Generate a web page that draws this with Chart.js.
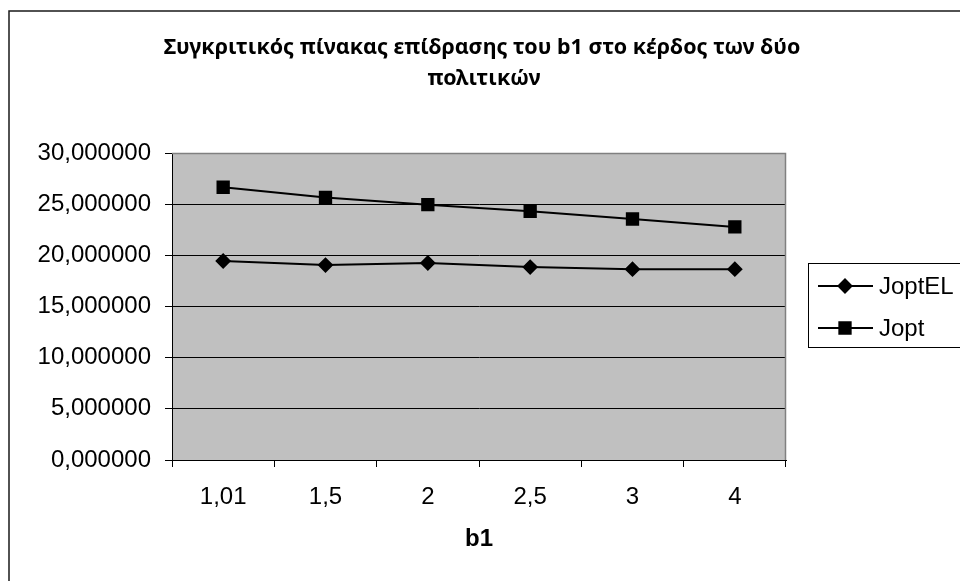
<!DOCTYPE html>
<html>
<head>
<meta charset="utf-8">
<script src="https://cdn.jsdelivr.net/npm/chart.js@4.4.1/dist/chart.umd.min.js"></script>
<style>
html,body{margin:0;padding:0;background:#fff;}
#wrap{width:960px;height:581px;position:relative;}
</style>
</head>
<body>
<div id="wrap"><canvas id="c" width="960" height="581"></canvas></div>
<script>
const categories = ['1,01', '1,5', '2', '2,5', '3', '4'];
const joptEL = [19.45, 19.05, 19.25, 18.85, 18.65, 18.65];
const jopt = [26.65, 25.65, 24.95, 24.30, 23.55, 22.78];
const seriesNames = ['JoptEL', 'Jopt'];
const titleLines = ['Συγκριτικός πίνακας επίδρασης του b1 στο κέρδος των δύο', 'πολιτικών'];
const xTitle = 'b1';
const yTicks = [0, 5, 10, 15, 20, 25, 30];

const FONT = "'Liberation Sans', Arial, sans-serif";
const TFONT = "'Noto Sans', 'DejaVu Sans', sans-serif";

const decor = {
  id: 'decor',
  beforeDraw(chart) {
    const ctx = chart.ctx;
    const a = chart.chartArea;
    ctx.save();
    ctx.fillStyle = '#fff';
    ctx.fillRect(0, 0, chart.width, chart.height);
    ctx.fillStyle = '#c0c0c0';
    ctx.fillRect(a.left, a.top, a.right - a.left, a.bottom - a.top);
    ctx.restore();
  },
  afterDraw(chart) {
    const ctx = chart.ctx;
    const a = chart.chartArea;
    ctx.save();
    // plot top/right border
    ctx.strokeStyle = '#808080';
    ctx.lineWidth = 1.5;
    ctx.beginPath();
    ctx.moveTo(a.left, a.top + 0.5);
    ctx.lineTo(a.right - 0.5, a.top + 0.5);
    ctx.lineTo(a.right - 0.5, a.bottom);
    ctx.stroke();
    // outer frame
    ctx.strokeStyle = '#1a1a1a';
    ctx.lineWidth = 1.5;
    ctx.beginPath();
    ctx.moveTo(9, chart.height + 5);
    ctx.lineTo(9, 11);
    ctx.lineTo(chart.width + 5, 11);
    ctx.stroke();
    // title
    ctx.fillStyle = '#000';
    ctx.font = 'bold 18px ' + TFONT;
    const w = ctx.measureText(titleLines[0]).width;
    const size = 18 * 637 / w;
    ctx.font = 'bold ' + size.toFixed(2) + 'px ' + TFONT;
    ctx.textAlign = 'center';
    ctx.textBaseline = 'middle';
    ctx.fillText(titleLines[0], 482, 48);
    ctx.fillText(titleLines[1], 484, 79);
    // legend
    ctx.fillStyle = '#fff';
    ctx.fillRect(808, 263, 170, 84);
    ctx.strokeStyle = '#000';
    ctx.lineWidth = 1;
    ctx.strokeRect(808.5, 263.5, 170, 84);
    const rows = [286, 328];
    chart.data.datasets.forEach((ds, i) => {
      const y = rows[i];
      ctx.strokeStyle = ds.borderColor;
      ctx.lineWidth = ds.borderWidth;
      ctx.beginPath();
      ctx.moveTo(818, y);
      ctx.lineTo(873, y);
      ctx.stroke();
      Chart.helpers.drawPoint(ctx, {pointStyle: ds.pointStyle, radius: ds.pointRadius, borderWidth: 1}, 845, y);
      ctx.fillStyle = ds.pointBackgroundColor;
      ctx.fill();
      ctx.fillStyle = '#000';
      ctx.font = '24px ' + FONT;
      ctx.textAlign = 'left';
      ctx.textBaseline = 'middle';
      ctx.fillText(ds.label, 879, y + 1);
    });
    ctx.restore();
  }
};

new Chart(document.getElementById('c'), {
  type: 'line',
  data: {
    labels: categories,
    datasets: [
      {
        label: seriesNames[0], data: joptEL,
        borderColor: '#000', backgroundColor: '#000', borderWidth: 2,
        pointStyle: 'rectRot', pointRadius: 6.5, pointBackgroundColor: '#000', pointBorderColor: '#000',
        tension: 0
      },
      {
        label: seriesNames[1], data: jopt,
        borderColor: '#000', backgroundColor: '#000', borderWidth: 2,
        pointStyle: 'rect', pointRadius: 8, pointBackgroundColor: '#000', pointBorderColor: '#000',
        tension: 0
      }
    ]
  },
  options: {
    responsive: false,
    animation: false,
    devicePixelRatio: 1,
    layout: { padding: { left: 0, right: 174, top: 153, bottom: 0 } },
    plugins: { legend: { display: false }, title: { display: false }, tooltip: { enabled: false } },
    scales: {
      x: {
        type: 'category',
        offset: true,
        grid: { display: true, drawOnChartArea: false, drawTicks: true, tickLength: 7, color: '#000', offset: true },
        border: { display: true, color: '#000', width: 1 },
        ticks: { color: '#000', font: { family: FONT, size: 24 }, padding: 16, maxRotation: 0, autoSkip: false },
        title: { display: true, text: xTitle, color: '#000', font: { family: FONT, size: 24, weight: 'bold' }, padding: { top: 0, bottom: 27 } },
        afterFit(scale) { scale.height = 121; }
      },
      y: {
        min: 0, max: 30,
        afterBuildTicks(scale) { scale.ticks = yTicks.map(v => ({ value: v })); },
        grid: { color: '#000', lineWidth: 1, tickLength: 7, drawTicks: true },
        border: { display: true, color: '#000', width: 1 },
        ticks: {
          color: '#000', font: { family: FONT, size: 24 }, padding: 14,
          callback: v => Number(v).toFixed(6).replace('.', ',')
        },
        afterFit(scale) { scale.width = 172; }
      }
    }
  },
  plugins: [decor]
});
</script>
</body>
</html>
